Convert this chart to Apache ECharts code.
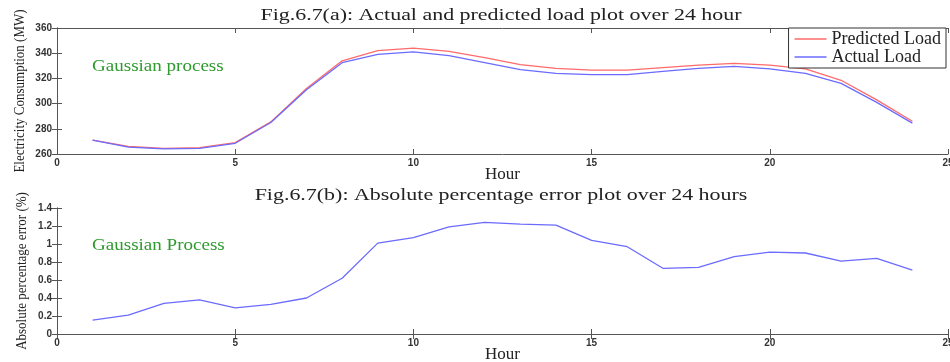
<!DOCTYPE html>
<html><head><meta charset="utf-8">
<script src="https://cdn.jsdelivr.net/npm/echarts@6/dist/echarts.min.js"></script>
<style>html,body{margin:0;padding:0;background:#fff}#c{width:950px;height:362px}</style>
</head><body><div id="c"></div>
<script>
var hours = [1,2,3,4,5,6,7,8,9,10,11,12,13,14,15,16,17,18,19,20,21,22,23,24];
var predictedLoad = [271,266,264.5,265,269,285.5,312,334,342,344,341.5,336.5,331,328,326.5,326.5,328.5,330.5,332,330.5,327.5,318.5,303,286];
var actualLoad = [271,265.5,264,264.5,268.5,285,311,332.5,339,341,338,332.5,327,324,323,323,325.5,328,329.5,327.5,324,316,301,284.5];
var apeError = [0.155,0.21,0.34,0.38,0.29,0.33,0.40,0.62,1.01,1.07,1.19,1.24,1.22,1.21,1.04,0.97,0.73,0.74,0.86,0.91,0.90,0.81,0.84,0.71];
var xTicks = [0,25,5];
var yTicksTop = [260,360,20];
var yTicksBottom = [0,1.4,0.2];
var titleA = 'Fig.6.7(a): Actual and predicted load plot over 24 hour';
var titleB = 'Fig.6.7(b): Absolute percentage error plot over 24 hours';
var yNameA = 'Electricity Consumption (MW)';
var yNameB = 'Absolute percentage error (%)';

var chart = echarts.init(document.getElementById('c'), null, {renderer:'canvas'});
var serif = '"Liberation Serif","DejaVu Serif",serif';
var sans = '"Liberation Sans",Arial,sans-serif';
var axisLine = {show:true, lineStyle:{color:'#555', width:1}};
var tick = {show:true, inside:true, length:5, lineStyle:{color:'#555'}};
var lbl = {fontFamily:sans, fontSize:10, fontWeight:'bold', color:'#333'};
function pair(xs){return xs.map(function(v,i){return [hours[i], v];});}

var grids = [
  {left:57, top:28, width:891, height:126, containLabel:false, outerBoundsMode:'none'},
  {left:57, top:208, width:891, height:126, containLabel:false, outerBoundsMode:'none'}
];
var xAxes = [], yAxes = [];
[0,1].forEach(function(g){
  xAxes.push({type:'value', gridIndex:g, min:xTicks[0], max:xTicks[1], interval:xTicks[2], position:'bottom',
    axisLine:axisLine, axisTick:tick, splitLine:{show:false},
    axisLabel:Object.assign({margin:4, showMaxLabel:true}, lbl),
    name:'Hour', nameLocation:'middle', nameGap:12, nameMoveOverlap:false,
    nameTextStyle:{fontFamily:serif, fontSize:17, color:'#222'}});
  xAxes.push({type:'value', gridIndex:g, min:xTicks[0], max:xTicks[1], interval:xTicks[2], position:'top',
    axisLine:axisLine, axisTick:tick, axisLabel:{show:false}, splitLine:{show:false}});
  var yt = g===0 ? yTicksTop : yTicksBottom;
  yAxes.push({type:'value', gridIndex:g, min:yt[0], max:yt[1], interval:yt[2], position:'left',
    axisLine:axisLine, axisTick:tick, splitLine:{show:false},
    axisLabel:Object.assign({margin:5}, lbl)});
  yAxes.push({type:'value', gridIndex:g, min:yt[0], max:yt[1], interval:yt[2], position:'right',
    axisLine:axisLine, axisTick:tick, axisLabel:{show:false}, splitLine:{show:false}});
});

chart.setOption({
  animation:false,
  backgroundColor:'#fff',
  legend:{data:['Predicted Load','Actual Load'], orient:'vertical', right:4, top:28,
    backgroundColor:'#fff', borderColor:'#333', borderWidth:1, padding:[2,5,2,6],
    icon:'rect', itemWidth:32, itemHeight:1.5, itemGap:0,
    textStyle:{fontFamily:serif, fontSize:18, color:'#222', lineHeight:16}},
  graphic:[
    {type:'text', x:501, y:16, scaleX:1.29, style:{text:titleA, font:'17px '+serif, fill:'#222', textAlign:'center', textVerticalAlign:'middle'}},
    {type:'text', x:501, y:196, scaleX:1.29, style:{text:titleB, font:'17px '+serif, fill:'#222', textAlign:'center', textVerticalAlign:'middle'}},
    {type:'text', x:92, y:67, scaleX:1.12, style:{text:'Gaussian process', font:'17px '+serif, fill:'#2e9a2e', textVerticalAlign:'middle'}},
    {type:'text', x:92, y:246, scaleX:1.12, style:{text:'Gaussian Process', font:'17px '+serif, fill:'#2e9a2e', textVerticalAlign:'middle'}},
    {type:'text', x:20, y:91, rotation:Math.PI/2, scaleY:1.2, style:{text:yNameA, font:'13px '+serif, fill:'#222', textAlign:'center', textVerticalAlign:'middle'}},
    {type:'text', x:22, y:271, rotation:Math.PI/2, scaleY:1.2, style:{text:yNameB, font:'13px '+serif, fill:'#222', textAlign:'center', textVerticalAlign:'middle'}}
  ],
  grid:grids,
  xAxis:xAxes,
  yAxis:yAxes,
  series:[
    {name:'Predicted Load', type:'line', xAxisIndex:0, yAxisIndex:0, data:pair(predictedLoad), symbol:'none',
     lineStyle:{color:'#ff6b6b', width:1.3}, itemStyle:{color:'#ff6b6b'}},
    {name:'Actual Load', type:'line', xAxisIndex:0, yAxisIndex:0, data:pair(actualLoad), symbol:'none',
     lineStyle:{color:'#6b6bff', width:1.3}, itemStyle:{color:'#6b6bff'}},
    {name:'APE', type:'line', xAxisIndex:2, yAxisIndex:2, data:pair(apeError), symbol:'none',
     lineStyle:{color:'#6b6bff', width:1.3}}
  ]
});
</script></body></html>
